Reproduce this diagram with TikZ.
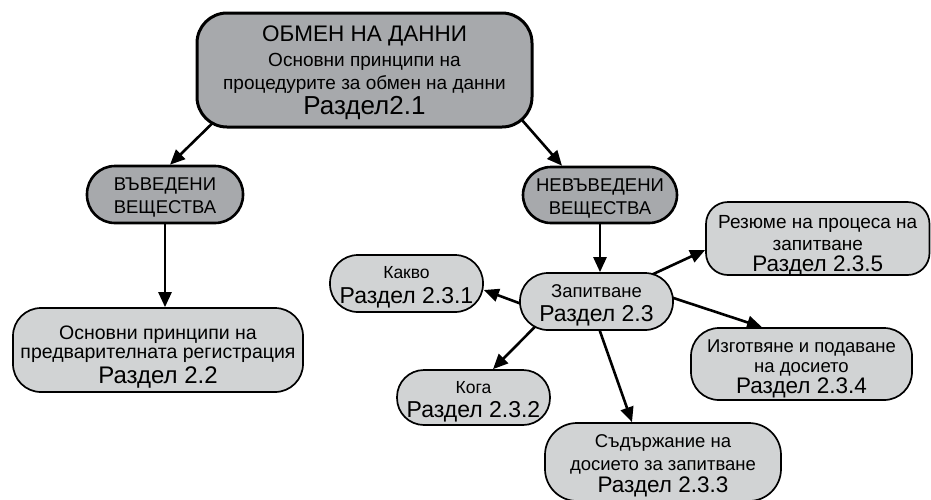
\documentclass[tikz,border=0pt]{standalone}
\usepackage{fontspec}
\setmainfont{Liberation Sans}
\usetikzlibrary{arrows.meta,backgrounds}

\definecolor{boxdark}{HTML}{A7A9AC}
\definecolor{boxlight}{HTML}{D1D3D4}

% one centred text line: font size, baseline distance to the previous line, text
\newcommand{\tline}[3]{\baselineskip=#2pt\relax\hbox to 0pt{\hss\fontsize{#1}{#1}\selectfont\smash{#3}\hss}}

\tikzset{
  darkbox/.style={draw=black, fill=boxdark, line width=2.6pt, inner sep=0pt},
  lightbox/.style={draw=black, fill=boxlight, line width=1.7pt, inner sep=0pt},
  conn/.style={line width=2.6pt, -{Triangle[length=15pt,width=13pt]}},
}

\begin{document}
\begin{tikzpicture}[x=1pt,y=-1pt]
\useasboundingbox (0,0) rectangle (931,499);

% ---- top level
\node[darkbox, line width=3pt, rounded corners=30pt, minimum width=335pt, minimum height=114pt] (top) at (364.5,70)
  {\vbox{\kern16pt
    \tline{22.5}{0}{ОБМЕН НА ДАННИ}
    \tline{19}{25}{Основни принципи на}
    \tline{19}{22.6}{процедурите за обмен на данни}
    \tline{26}{25}{Раздел2.1}}};

% ---- second level
\node[darkbox, rounded corners=28pt, minimum width=156pt, minimum height=57pt] (vv) at (165,194.5)
  {\vbox{\kern14.9pt
    \tline{18.5}{0}{ВЪВЕДЕНИ}
    \tline{18.5}{22.5}{ВЕЩЕСТВА}}};

\node[darkbox, rounded corners=28pt, minimum width=154pt, minimum height=56pt] (nv) at (600,195)
  {\vbox{\kern15.9pt
    \tline{18.5}{0}{НЕВЪВЕДЕНИ}
    \tline{18.5}{22.5}{ВЕЩЕСТВА}}};

% ---- sections
\node[lightbox, rounded corners=28pt, minimum width=290pt, minimum height=84pt] (prereg) at (158,350)
  {\vbox{\kern22pt
    \tline{19.5}{0}{Основни принципи на}
    \tline{19.5}{19}{предварителната регистрация}
    \tline{24}{25}{Раздел 2.2}}};

\node[lightbox, rounded corners=28pt, minimum width=153pt, minimum height=57pt] (zap) at (596.5,301.5)
  {\vbox{\kern15.3pt
    \tline{18.5}{0}{Запитване}
    \tline{23}{23.7}{Раздел 2.3}}};

\node[lightbox, rounded corners=28pt, minimum width=153pt, minimum height=57pt] (kakvo) at (406.5,283.5)
  {\vbox{\kern14.6pt
    \tline{17.5}{0}{Какво}
    \tline{23}{25}{Раздел 2.3.1}}};

\node[lightbox, rounded corners=27pt, minimum width=153pt, minimum height=55pt] (koga) at (473.5,397.5)
  {\vbox{\kern15.6pt
    \tline{17.5}{0}{Кога}
    \tline{23}{24}{Раздел 2.3.2}}};

\node[lightbox, rounded corners=32pt, minimum width=236pt, minimum height=78pt] (sad) at (663,462)
  {\vbox{\kern15pt
    \tline{18.5}{0}{Съдържание на}
    \tline{18.5}{23}{досието за запитване}
    \tline{22.5}{22}{Раздел 2.3.3}}};

\node[lightbox, rounded corners=28pt, minimum width=221pt, minimum height=72pt] (izg) at (801.5,364)
  {\vbox{\kern17.6pt
    \tline{18.5}{0}{Изготвяне и подаване}
    \tline{18.5}{20}{на досието}
    \tline{22.5}{21}{Раздел 2.3.4}}};

\node[lightbox, rounded corners=22pt, minimum width=223.5pt, minimum height=73pt] (rezyume) at (817.75,238.5)
  {\vbox{\kern22.3pt
    \tline{19}{0}{Резюме на процеса на}
    \tline{19}{21.7}{запитване}
    \tline{22.5}{21}{Раздел 2.3.5}}};

% ---- connectors, kept behind the boxes
\begin{scope}[on background layer]
  \draw[conn] ([shift={(33,-21)}]top.south west) -- ([xshift=5pt]vv.north);
  \draw[conn] ([shift={(-33,-33)}]top.south east) -- ([xshift=-38pt]nv.north);
  \draw[conn] (vv.center) -- (vv.center |- prereg.north);
  \draw[conn] (nv.center) -- (nv.center |- zap.north);
  \draw[conn] ([shift={(-56.5,9.3)}]zap.center) -- ([shift={(0,6.5)}]kakvo.east);
  \draw[conn] ([shift={(39.5,-19.5)}]zap.center) -- ([shift={(0,11.5)}]rezyume.west);
  \draw[conn] ([shift={(43.5,-14.5)}]zap.center) -- ([xshift=-39.5pt]izg.north);
  \draw[conn] ([shift={(-36.5,0)}]zap.center) -- ([xshift=19.5pt]koga.north);
  \draw[conn] ([shift={(-7,0)}]zap.center) -- ([xshift=-31pt]sad.north);
\end{scope}
\end{tikzpicture}
\end{document}
